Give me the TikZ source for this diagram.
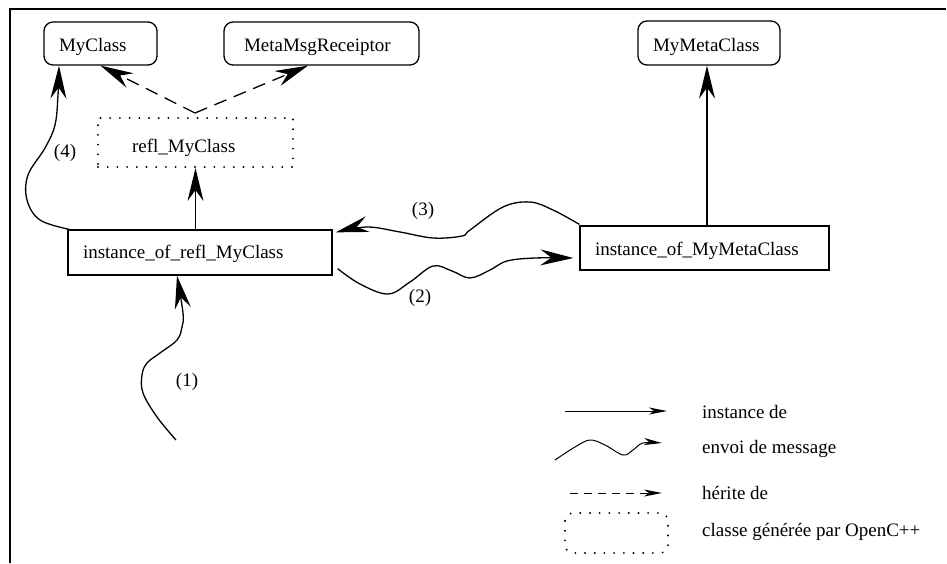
\documentclass[tikz,border=0pt]{standalone}
\usepackage{fontspec}
\setmainfont{Liberation Serif}
\usetikzlibrary{arrows.meta}
\begin{document}
\begin{tikzpicture}[x=1pt,y=-1pt,
  font=\fontsize{19pt}{22pt}\selectfont,
  boxtext/.style={inner ysep=0pt, align=left, text height=16pt, text depth=0pt},
  cls/.style={draw, line width=1.3pt, rounded corners=9pt, boxtext},
  obj/.style={draw, line width=1.3pt, boxtext},
  dots/.style={line width=2.1pt, line cap=round, dash pattern=on 0pt off 9.7pt},
  gen/.style={draw, dots, boxtext},
  bigtip/.style={-{Stealth[length=33pt, width=16pt, inset=11pt]}},
  smalltip/.style={-{Stealth[length=18pt, width=7pt, inset=5pt]}},
  inst/.style={bigtip, line width=1.3pt},
  inh/.style={bigtip, line width=1.3pt, dash pattern=on 13pt off 8pt},
  msg/.style={bigtip, line width=1.3pt},
  lbl/.style={inner sep=0pt}
]
\useasboundingbox (0,0) rectangle (947,563);

% outer frame (top and left sides)
\draw[line width=2.5pt] (10,563) -- (10,9) -- (946,9);

% classes
\node[cls, minimum height=43pt, text width=83pt, inner xsep=15pt] (myclass) at (100.5,43.5) {MyClass};
\node[cls, minimum height=43pt, text width=155pt, inner xsep=20pt] (meta) at (321.5,43.5) {MetaMsgReceiptor};
\node[cls, minimum height=44pt, text width=112pt, inner xsep=15pt] (mmc) at (709,43) {MyMetaClass};
\node[gen, minimum height=49pt, text width=127pt, inner xsep=34pt, text height=19pt] (refl) at (195.5,142.5) {refl\_MyClass};

% instances
\node[obj, minimum height=45pt, text width=234pt, inner xsep=15pt, text height=12pt] (irefl) at (200,252.5) {instance\_of\_refl\_MyClass};
\node[obj, minimum height=44pt, text width=219pt, inner xsep=15pt, text height=14pt] (imeta) at (704.5,248) {instance\_of\_MyMetaClass};

% inheritance of the generated class
\coordinate (fork) at (195,113);
\draw[inh] (fork) -- (myclass.south);
\draw[inh] (fork) -- ([xshift=-13.5pt]meta.south);

% instance-of links
\draw[inst] (refl.south |- irefl.north) -- (refl.south);
\draw[inst] ([xshift=-2pt]mmc.south |- imeta.north) -- ([xshift=-2pt]mmc.south);

% (1) incoming message
\coordinate (start1) at (176,440);
\draw[msg] plot[smooth, tension=0.6] coordinates {(start1) (157,417) (143,393) (142,375) (147,363) (160,353) (177,340) (182,327) (183,313) ([xshift=-23pt]irefl.south)};

% (2) message to the meta-object
\draw[msg] plot[smooth, tension=0.6] coordinates {([xshift=5pt,yshift=7pt]irefl.south east) (360,284) (388,294) (410,282) (433,266) (452,271) (470,278) (490,270) (507,261) (535,258) ([xshift=-6pt,yshift=-10pt]imeta.west)};

% (3) message back
\draw[msg] plot[smooth, tension=0.6] coordinates {([yshift=1pt]imeta.north west) (553,210) (530,202) (503,207) (470,230) (462,236) (433,238) (400,232) (367,227) ([xshift=3pt,yshift=-3pt]irefl.north east)};

% (4) instance of MyClass
\draw[inst] plot[smooth, tension=0.6] coordinates {([xshift=2pt]irefl.north west) (40,220) (27,200) (28,175) (45,148) (55,125) (58,95) ([xshift=-41.5pt]myclass.south)};

% step labels
\node[lbl] (l1) at (187,382) {(1)};
\node[lbl] (l2) at (420,298) {(2)};
\node[lbl] (l3) at (423,211) {(3)};
\node[lbl] (l4) at (65,153) {(4)};

% legend
\coordinate (ia) at (565,411); \coordinate (ib) at (667,411);
\draw[smalltip, line width=1pt] (ia) -- (ib);
\node[lbl, anchor=west] (tinst) at (702,412) {instance de};

\coordinate (ma) at (555,460); \coordinate (mb) at (662,443);
\draw[smalltip, line width=1pt] plot[smooth, tension=0.6] coordinates {(ma) (575,447) (590,440) (605,445) (623,455) (633,450) (643,443) (mb)};
\node[lbl, anchor=west] (tmsg) at (702,449) {envoi de message};

\coordinate (ha) at (570,493); \coordinate (hb) at (662,493);
\draw[smalltip, line width=1pt, dash pattern=on 8pt off 6pt] (ha) -- (hb);
\node[lbl, anchor=west] (therit) at (702,493) {hérite de};

\draw[dots, rounded corners=8pt] (565,513) rectangle (668,553);
\node[lbl, anchor=west] (tgen) at (702,532) {classe générée par OpenC++};
\end{tikzpicture}
\end{document}
